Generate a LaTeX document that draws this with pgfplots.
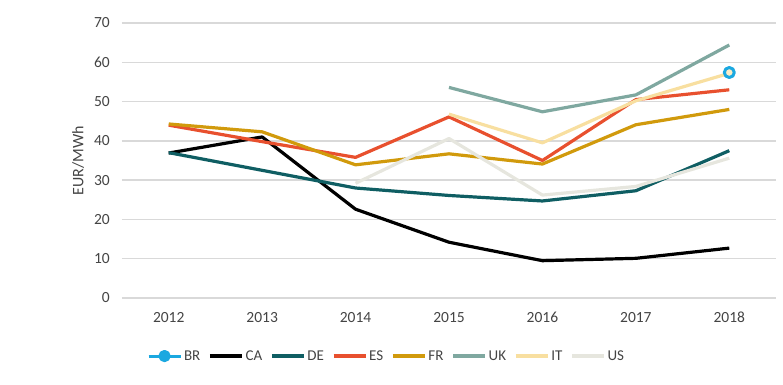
\documentclass[border=0pt]{standalone}
\usepackage{fontspec}
\setmainfont{Carlito}
\usepackage{pgfplots}
\pgfplotsset{compat=1.18}
\definecolor{cBR}{HTML}{1BA8E0}
\definecolor{cCA}{HTML}{000000}
\definecolor{cDE}{HTML}{0F5E63}
\definecolor{cES}{HTML}{E8502E}
\definecolor{cFR}{HTML}{D19A0C}
\definecolor{cUK}{HTML}{7FA8A0}
\definecolor{cIT}{HTML}{F8DFA0}
\definecolor{cUS}{HTML}{E6E6DE}
\definecolor{cgrid}{HTML}{D9D9D9}
\definecolor{ctext}{HTML}{444444}
\begin{document}
\begin{tikzpicture}
\begin{axis}[
  scale only axis,
  width=654pt, height=275pt,
  xmin=-0.5, xmax=6.5, ymin=0, ymax=70,
  xtick={0,...,6},
  xticklabels={2012,2013,2014,2015,2016,2017,2018},
  ytick={0,10,...,70},
  ymajorgrids,
  grid style={cgrid, line width=1.4pt},
  axis line style={draw=none},
  major tick length=0pt,
  tick style={draw=none},
  /pgf/number format/assume math mode=true,
  ticklabel style={font=\fontsize{15.5}{17}\selectfont, text=ctext, inner sep=0pt},
  yticklabel shift=12pt,
  xticklabel shift=14pt,
  ylabel={EUR/MWh},
  every axis y label/.style={at={(axis description cs:-0.067,0.5)}, rotate=90, anchor=center, font=\fontsize{16}{18}\selectfont, text=ctext},
  every axis plot/.append style={line width=3.2pt, line join=round},
  legend columns=8,
  legend style={at={(axis description cs:0.038,-0.211)}, anchor=west, draw=none, fill=none,
    font=\fontsize{15}{17}\selectfont, text=ctext, inner sep=0pt,
    /tikz/every even column/.append style={column sep=6pt}},
  legend cell align=left,
  legend image code/.code={\draw[mark repeat=2,mark phase=2] plot coordinates {(0pt,0pt) (16pt,0pt) (32pt,0pt)};},
]
\addplot[cBR, mark=*, mark size=5pt, mark options={fill=cIT!60!white, draw=cBR, line width=3pt},
  legend image code/.code={\draw[cBR, line width=3pt] (0pt,0pt) -- (32pt,0pt); \fill[cBR] (16pt,0pt) circle (4.5pt);}]
  coordinates {(6,57.4)};
\addlegendentry{BR}
\addplot[cCA] coordinates {(0,36.9) (1,41) (2,22.6) (3,14.2) (4,9.5) (5,10.1) (6,12.7)};
\addlegendentry{CA}
\addplot[cDE] coordinates {(0,37) (1,32.5) (2,28) (3,26.1) (4,24.7) (5,27.3) (6,37.5)};
\addlegendentry{DE}
\addplot[cES] coordinates {(0,44) (1,39.8) (2,35.8) (3,46.1) (4,35) (5,50.5) (6,53)};
\addlegendentry{ES}
\addplot[cFR] coordinates {(0,44.3) (1,42.3) (2,33.9) (3,36.7) (4,34.1) (5,44.1) (6,48)};
\addlegendentry{FR}
\addplot[cUK] coordinates {(3,53.6) (4,47.4) (5,51.7) (6,64.4)};
\addlegendentry{UK}
\addplot[cIT] coordinates {(3,46.8) (4,39.5) (5,50.2) (6,57.2)};
\addlegendentry{IT}
\addplot[cUS] coordinates {(2,29.2) (3,40.6) (4,26.2) (5,28.4) (6,35.6)};
\addlegendentry{US}
\end{axis}
\path (current axis.south west) ++(-122pt,-86pt) rectangle ++(783pt,384pt);
\end{tikzpicture}
\end{document}
